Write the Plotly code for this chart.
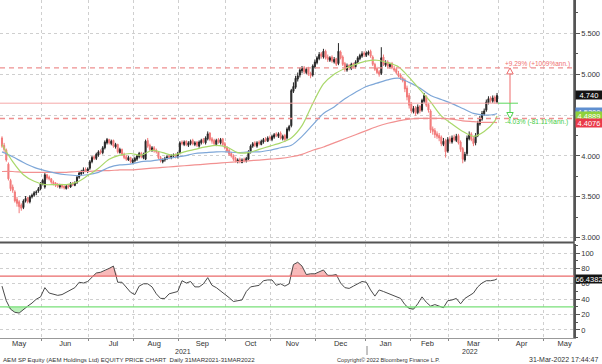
import pandas as pd
import plotly.graph_objects as go
from plotly.subplots import make_subplots

# ---------------- data ----------------
holidays = ["2021-05-13", "2021-05-26", "2021-07-20", "2021-08-09",
            "2021-11-04", "2022-02-01", "2022-02-02"]

open_ = [
    # May
    4.22, 4.13, 4.07, 3.90, 3.70, 3.62, 3.56, 3.47, 3.44, 3.40, 3.37, 3.45, 3.49, 3.44, 3.50, 3.52, 3.55, 3.57, 3.60,
    # Jun
    3.66, 3.62, 3.77, 3.74, 3.72, 3.68, 3.67, 3.65, 3.62, 3.65, 3.63, 3.60, 3.64, 3.62, 3.67, 3.64, 3.67, 3.74, 3.78, 3.80, 3.84, 3.81,
    # Jul
    3.85, 3.93, 3.99, 3.97, 4.01, 4.06, 4.04, 4.10, 4.16, 4.20, 4.15, 4.19, 4.11, 4.14, 4.04, 4.08, 4.02, 3.99, 3.95, 3.98, 3.92,
    # Aug
    3.94, 3.96, 3.99, 4.03, 3.98, 3.96, 4.19, 4.13, 4.07, 4.10, 4.07, 4.05, 3.98, 3.93, 3.95, 3.97, 4.00, 3.98, 4.00, 4.02, 3.99,
    # Sep
    4.04, 4.17, 4.14, 4.18, 4.13, 4.15, 4.19, 4.14, 4.17, 4.12, 4.16, 4.20, 4.16, 4.21, 4.28, 4.21, 4.19, 4.14, 4.20, 4.16, 4.21, 4.15,
    # Oct
    4.10, 4.07, 4.03, 4.00, 3.97, 3.93, 3.96, 3.92, 3.96, 3.94, 3.96, 4.05, 4.12, 4.16, 4.12, 4.17, 4.14, 4.17, 4.21, 4.18, 4.23,
    # Nov
    4.20, 4.23, 4.27, 4.24, 4.28, 4.21, 4.25, 4.22, 4.32, 4.37, 4.79, 4.84, 4.94, 4.99, 5.04, 5.08, 5.02, 5.07, 5.01, 4.99, 5.09,
    # Dec
    5.14, 5.19, 5.25, 5.21, 5.28, 5.21, 5.17, 5.21, 5.15, 5.19, 5.13, 5.27, 5.21, 5.13, 5.05, 5.11, 5.07, 5.13, 5.09, 5.15, 5.19, 5.22, 5.26,
    # Jan
    5.23, 5.25, 5.28, 5.21, 5.12, 5.07, 5.03, 5.01, 5.21, 5.11, 5.15, 5.09, 5.13, 5.07, 5.06, 5.01, 4.99, 4.95, 4.93, 4.83, 4.74,
    # Feb
    4.63, 4.54, 4.59, 4.53, 4.61, 4.56, 4.67, 4.73, 4.63, 4.55, 4.33, 4.31, 4.27, 4.25, 4.23, 4.14, 4.19, 4.06,
    # Mar
    4.21, 4.17, 4.23, 4.19, 4.25, 4.17, 4.09, 3.95, 4.03, 4.21, 4.27, 4.21, 4.16, 4.25, 4.39, 4.45, 4.51, 4.56, 4.65, 4.71, 4.67, 4.72, 4.66,
]
high = [
    4.24, 4.16, 4.09, 3.92, 3.72, 3.65, 3.58, 3.50, 3.46, 3.42, 3.47, 3.51, 3.50, 3.52, 3.54, 3.57, 3.58, 3.62, 3.68,
    3.72, 3.79, 3.78, 3.76, 3.73, 3.70, 3.68, 3.67, 3.66, 3.66, 3.64, 3.65, 3.65, 3.68, 3.68, 3.69, 3.76, 3.81, 3.83, 3.86, 3.86, 3.86,
    3.95, 4.00, 4.01, 4.04, 4.07, 4.08, 4.12, 4.19, 4.22, 4.21, 4.20, 4.20, 4.16, 4.15, 4.10, 4.09, 4.04, 4.01, 4.00, 3.99, 3.97,
    3.99, 4.02, 4.05, 4.05, 4.04, 4.20, 4.22, 4.15, 4.12, 4.12, 4.09, 4.06, 4.00, 3.97, 3.99, 4.01, 4.02, 4.02, 4.03, 4.03, 4.05,
    4.18, 4.19, 4.19, 4.19, 4.18, 4.20, 4.21, 4.18, 4.18, 4.19, 4.21, 4.22, 4.24, 4.30, 4.29, 4.23, 4.21, 4.21, 4.22, 4.22, 4.22, 4.17,
    4.12, 4.09, 4.05, 4.02, 3.99, 3.97, 3.98, 3.97, 3.98, 3.99, 4.07, 4.14, 4.17, 4.18, 4.18, 4.19, 4.20, 4.22, 4.23, 4.24, 4.25,
    4.26, 4.28, 4.29, 4.29, 4.30, 4.26, 4.27, 4.35, 4.38, 4.82, 4.90, 4.98, 5.02, 5.08, 5.10, 5.10, 5.08, 5.09, 5.03, 5.12, 5.18,
    5.22, 5.27, 5.27, 5.31, 5.30, 5.24, 5.22, 5.23, 5.21, 5.20, 5.38, 5.29, 5.23, 5.15, 5.13, 5.12, 5.14, 5.14, 5.17, 5.22, 5.25, 5.28, 5.28,
    5.28, 5.29, 5.30, 5.23, 5.14, 5.09, 5.05, 5.33, 5.24, 5.17, 5.17, 5.14, 5.15, 5.10, 5.08, 5.04, 5.01, 4.97, 4.95, 4.86, 4.77,
    4.66, 4.61, 4.61, 4.63, 4.62, 4.70, 4.77, 4.74, 4.65, 4.57, 4.36, 4.34, 4.30, 4.28, 4.25, 4.22, 4.21, 4.23,
    4.24, 4.25, 4.26, 4.27, 4.27, 4.19, 4.11, 4.05, 4.25, 4.30, 4.29, 4.23, 4.28, 4.43, 4.49, 4.55, 4.58, 4.69, 4.73, 4.73, 4.74, 4.74, 4.77,
]
low = [
    4.10, 4.05, 3.93, 3.70, 3.57, 3.55, 3.43, 3.38, 3.30, 3.33, 3.35, 3.43, 3.42, 3.42, 3.48, 3.50, 3.52, 3.55, 3.58,
    3.64, 3.60, 3.71, 3.70, 3.66, 3.64, 3.62, 3.61, 3.60, 3.60, 3.59, 3.59, 3.60, 3.61, 3.63, 3.63, 3.66, 3.72, 3.76, 3.78, 3.80, 3.79,
    3.83, 3.91, 3.95, 3.95, 3.99, 4.02, 4.02, 4.08, 4.14, 4.14, 4.13, 4.10, 4.09, 4.03, 4.03, 4.00, 3.96, 3.94, 3.94, 3.91, 3.90,
    3.92, 3.94, 3.97, 3.97, 3.96, 3.95, 4.10, 4.06, 4.05, 4.04, 4.03, 3.96, 3.92, 3.91, 3.93, 3.95, 3.96, 3.96, 3.98, 3.97, 3.97,
    4.02, 4.13, 4.12, 4.12, 4.11, 4.13, 4.13, 4.12, 4.11, 4.10, 4.14, 4.15, 4.14, 4.19, 4.18, 4.15, 4.13, 4.12, 4.15, 4.14, 4.12, 4.08,
    4.04, 4.00, 3.98, 3.94, 3.92, 3.91, 3.91, 3.91, 3.92, 3.92, 3.95, 4.03, 4.10, 4.11, 4.10, 4.13, 4.13, 4.15, 4.17, 4.17, 4.19,
    4.18, 4.21, 4.23, 4.22, 4.20, 4.19, 4.17, 4.20, 4.30, 4.35, 4.77, 4.82, 4.91, 4.96, 5.01, 5.00, 5.00, 4.98, 4.95, 4.97, 5.07,
    5.12, 5.17, 5.19, 5.19, 5.18, 5.15, 5.15, 5.14, 5.13, 5.10, 5.11, 5.18, 5.10, 5.03, 5.03, 5.05, 5.05, 5.07, 5.07, 5.13, 5.17, 5.20, 5.21,
    5.21, 5.23, 5.20, 5.10, 5.04, 5.00, 4.97, 4.99, 5.10, 5.09, 5.07, 5.07, 5.06, 5.03, 5.00, 4.96, 4.93, 4.90, 4.78, 4.68, 4.58,
    4.52, 4.52, 4.49, 4.51, 4.52, 4.54, 4.65, 4.60, 4.53, 4.28, 4.26, 4.22, 4.21, 4.18, 4.12, 4.12, 3.98, 4.04,
    4.15, 4.15, 4.18, 4.17, 4.14, 4.05, 3.91, 3.93, 4.00, 4.19, 4.18, 4.12, 4.13, 4.23, 4.37, 4.43, 4.49, 4.54, 4.63, 4.65, 4.65, 4.64, 4.64,
]
close = [
    4.12, 4.08, 3.95, 3.72, 3.60, 3.58, 3.45, 3.42, 3.38, 3.36, 3.45, 3.48, 3.44, 3.50, 3.52, 3.55, 3.56, 3.60, 3.66,
    3.70, 3.77, 3.73, 3.72, 3.68, 3.66, 3.64, 3.63, 3.64, 3.62, 3.61, 3.63, 3.62, 3.66, 3.65, 3.67, 3.74, 3.79, 3.80, 3.83, 3.82, 3.84,
    3.93, 3.98, 3.97, 4.02, 4.05, 4.04, 4.10, 4.17, 4.20, 4.16, 4.18, 4.12, 4.14, 4.05, 4.08, 4.02, 3.98, 3.96, 3.98, 3.93, 3.95,
    3.97, 4.00, 4.03, 3.99, 4.02, 4.18, 4.12, 4.08, 4.10, 4.06, 4.05, 3.98, 3.94, 3.95, 3.97, 3.99, 3.98, 4.00, 4.01, 3.99, 4.03,
    4.16, 4.15, 4.17, 4.14, 4.16, 4.18, 4.15, 4.16, 4.13, 4.17, 4.19, 4.17, 4.22, 4.27, 4.20, 4.18, 4.15, 4.19, 4.17, 4.20, 4.14, 4.10,
    4.06, 4.02, 4.00, 3.96, 3.94, 3.95, 3.93, 3.95, 3.94, 3.97, 4.05, 4.12, 4.15, 4.13, 4.16, 4.15, 4.18, 4.20, 4.19, 4.22, 4.21,
    4.24, 4.26, 4.25, 4.27, 4.22, 4.24, 4.20, 4.33, 4.36, 4.80, 4.85, 4.95, 4.98, 5.05, 5.07, 5.03, 5.06, 5.00, 4.98, 5.10, 5.15,
    5.20, 5.24, 5.22, 5.28, 5.20, 5.18, 5.20, 5.16, 5.18, 5.12, 5.28, 5.20, 5.12, 5.06, 5.10, 5.08, 5.12, 5.09, 5.15, 5.20, 5.23, 5.25, 5.24,
    5.26, 5.27, 5.22, 5.12, 5.06, 5.02, 5.00, 5.20, 5.12, 5.14, 5.10, 5.12, 5.08, 5.05, 5.02, 4.98, 4.95, 4.92, 4.82, 4.72, 4.62,
    4.55, 4.58, 4.52, 4.60, 4.55, 4.68, 4.74, 4.62, 4.56, 4.32, 4.30, 4.26, 4.24, 4.22, 4.15, 4.18, 4.05, 4.20,
    4.18, 4.22, 4.20, 4.24, 4.16, 4.08, 3.96, 4.02, 4.22, 4.26, 4.20, 4.15, 4.25, 4.40, 4.46, 4.52, 4.55, 4.66, 4.70, 4.68, 4.71, 4.67, 4.74,
]

# moving averages, read every 5th session (+ last session)
ma_green = [4.14, 3.93, 3.77, 3.69, 3.65, 3.65, 3.65, 3.68, 3.76, 3.85, 3.96, 4.01, 4.03, 4.01, 4.07, 4.04,
            4.01, 4.05, 4.08, 4.11, 4.13, 4.11, 4.04, 4.04, 4.08, 4.12, 4.16, 4.22, 4.37, 4.64, 4.88, 5.00,
            5.07, 5.12, 5.16, 5.17, 5.14, 5.09, 4.96, 4.81, 4.66, 4.49, 4.39, 4.30, 4.24, 4.30, 4.43, 4.4889]
ma_blue = [4.05, 3.99, 3.92, 3.86, 3.82, 3.79, 3.77, 3.76, 3.77, 3.80, 3.86, 3.89, 3.90, 3.93, 3.94, 3.96,
           3.98, 4.00, 4.03, 4.04, 4.05, 4.05, 4.04, 4.05, 4.05, 4.07, 4.10, 4.13, 4.24, 4.38, 4.52, 4.60,
           4.70, 4.78, 4.85, 4.89, 4.93, 4.95, 4.90, 4.83, 4.74, 4.69, 4.64, 4.58, 4.52, 4.50, 4.51, 4.52]
ma_red = [3.81, 3.81, 3.80, 3.80, 3.80, 3.80, 3.80, 3.81, 3.81, 3.82, 3.82, 3.83, 3.83, 3.84, 3.85, 3.86,
          3.87, 3.88, 3.89, 3.90, 3.91, 3.92, 3.93, 3.94, 3.95, 3.96, 3.97, 3.99, 4.02, 4.07, 4.11, 4.16,
          4.21, 4.26, 4.31, 4.36, 4.40, 4.43, 4.45, 4.46, 4.46, 4.46, 4.45, 4.43, 4.42, 4.41, 4.41, 4.4076]

# RSI, read every 2nd session (+ last session)
rsi = [57, 38, 27, 23, 22, 27, 31, 35, 40, 43,
       55, 48, 46, 45, 46, 49, 52, 55, 62, 61, 63,
       69, 74, 75, 77, 80, 83, 62, 62, 55, 49,
       46, 57, 60, 60, 56, 47, 41, 41, 47, 49, 50,
       64, 61, 63, 56, 56, 60, 68, 58, 55, 51, 47,
       42, 37, 38, 39, 50, 56, 57, 58, 64, 65,
       65, 58, 60, 57, 60, 85, 88, 83, 72, 73, 73,
       75, 78, 71, 71, 72, 61, 55, 54, 57, 60, 63,
       62, 52, 44, 52, 50, 48, 46, 44, 41, 33, 28,
       27, 34, 43, 36, 31, 33, 31, 29, 38,
       39, 41, 34, 41, 45, 48, 56, 61, 64, 64, 65,
       66.4382]

last_price = 4.740
ref_level = 4.645
up_pct = 9.29
down_pct = 4.03
rsi_hi, rsi_lo = 70, 30

price_ticks = [3.0, 3.5, 4.0, 4.5, 5.0, 5.5]
price_ticktext = ["3.000", "3.500", "4.000", "", "5.000", "5.500"]
rsi_ticks = [0, 20, 40, 60, 80, 100]

# ---------------- positions ----------------
days = pd.bdate_range("2021-05-03", "2022-03-31")
days = days[~days.isin(pd.to_datetime(holidays))]
assert len(days) == len(close) == len(open_) == len(high) == len(low)
xd = days + pd.Timedelta(hours=12)
x_ma = list(xd[::5]) + [xd[-1]]
x_rsi = list(xd[::2]) + [xd[-1]]
assert len(x_ma) == len(ma_green) and len(x_rsi) == len(rsi)

upper = ref_level * (1 + up_pct / 100)
lower = ref_level * (1 - down_pct / 100)

FONT = "Liberation Sans, Arial, sans-serif"
PW = 574.0  # plot width in px
PH = 338.0  # plot height in px

def px_x(px):
    return px / PW

def px_y(py):
    return (PH - py) / PH

fig = make_subplots(rows=2, cols=1, shared_xaxes=True)

fig.add_trace(go.Candlestick(
    x=xd, open=open_, high=high, low=low, close=close,
    increasing=dict(line=dict(color="#262626", width=1), fillcolor="#262626"),
    decreasing=dict(line=dict(color="#f27a7a", width=1), fillcolor="#f27a7a"),
    whiskerwidth=0, hoverinfo="skip"), row=1, col=1)

for vals, col in [(ma_red, "#f29191"), (ma_blue, "#7ea7d8"), (ma_green, "#a9d86a")]:
    fig.add_trace(go.Scatter(x=x_ma, y=vals, mode="lines",
                             line=dict(color=col, width=1.2, shape="spline", smoothing=0.8),
                             hoverinfo="skip"), row=1, col=1)

# RSI fills
fig.add_trace(go.Scatter(x=x_rsi, y=[rsi_hi] * len(rsi), mode="lines",
                         line=dict(width=0), hoverinfo="skip"), row=2, col=1)
fig.add_trace(go.Scatter(x=x_rsi, y=[max(v, rsi_hi) for v in rsi], mode="lines",
                         line=dict(width=0), fill="tonexty", fillcolor="rgba(244,140,140,0.6)",
                         hoverinfo="skip"), row=2, col=1)
fig.add_trace(go.Scatter(x=x_rsi, y=[rsi_lo] * len(rsi), mode="lines",
                         line=dict(width=0), hoverinfo="skip"), row=2, col=1)
fig.add_trace(go.Scatter(x=x_rsi, y=[min(v, rsi_lo) for v in rsi], mode="lines",
                         line=dict(width=0), fill="tonexty", fillcolor="rgba(140,232,140,0.6)",
                         hoverinfo="skip"), row=2, col=1)
fig.add_trace(go.Scatter(x=x_rsi, y=rsi, mode="lines",
                         line=dict(color="#4a4a4a", width=1), hoverinfo="skip"), row=2, col=1)

rb = [dict(bounds=["sat", "mon"]), dict(values=holidays)]
xrange = ["2021-04-30 13:40", "2022-05-20 10:00"]
common_x = dict(range=xrange, rangebreaks=rb, showgrid=True, gridcolor="#cfcfcf",
                griddash="dot", gridwidth=1, dtick="M1", tick0="2021-05-01",
                zeroline=False)

fig.update_layout(
    width=602, height=364, margin=dict(l=0, r=28, t=0, b=26),
    showlegend=False, paper_bgcolor="white", plot_bgcolor="white",
    font=dict(family=FONT, size=7, color="#333"),
    xaxis=dict(**common_x, showticklabels=False, rangeslider=dict(visible=False)),
    xaxis2=dict(**common_x, showticklabels=True, tickformat="%b", ticklabelmode="period",
                ticks="outside", ticklen=2, tickcolor="#888", showline=True,
                linecolor="#999", linewidth=1, ticklabelstandoff=-4,
                tickfont=dict(size=7.5, color="#333")),
    yaxis=dict(domain=[px_y(241), 1], side="right", range=[2.96, 5.907],
               tickvals=price_ticks, ticktext=price_ticktext, showgrid=True,
               gridcolor="#cfcfcf", griddash="dot", showline=True, linecolor="#555",
               linewidth=1.5, ticks="outside", ticklen=4, tickcolor="#555",
               minor=dict(ticks="outside", ticklen=2, dtick=0.25, tickcolor="#555", showgrid=False),
               zeroline=False, tickfont=dict(size=7.5, color="#333")),
    yaxis2=dict(domain=[0, px_y(244)], side="right", range=[-10.4, 111.7],
                tickvals=rsi_ticks, showgrid=True, gridcolor="#cfcfcf", griddash="dot",
                showline=True, linecolor="#555", linewidth=1.5, ticks="outside",
                ticklen=4, tickcolor="#555", zeroline=False,
                minor=dict(ticks="outside", ticklen=2, dtick=10, tickcolor="#555", showgrid=False),
                tickfont=dict(size=7.5, color="#333")),
)

shapes = []
# panel separator and full axis line
shapes.append(dict(type="line", xref="paper", yref="paper", x0=0, x1=1,
                   y0=px_y(242.5), y1=px_y(242.5), line=dict(color="#555", width=2)))
shapes.append(dict(type="line", xref="paper", yref="paper", x0=1, x1=1,
                   y0=0, y1=1, line=dict(color="#555", width=1.5)))
# RSI levels
shapes.append(dict(type="line", xref="x2 domain", yref="y2", x0=0, x1=1, y0=rsi_hi, y1=rsi_hi,
                   line=dict(color="#ea6a6a", width=1.2)))
shapes.append(dict(type="line", xref="x2 domain", yref="y2", x0=0, x1=1, y0=rsi_lo, y1=rsi_lo,
                   line=dict(color="#79e079", width=1.2)))
# price study lines
shapes.append(dict(type="line", xref="x domain", yref="y", x0=0, x1=px_x(498), y0=ref_level,
                   y1=ref_level, line=dict(color="#f5a9a9", width=1)))
for lvl in (upper, lower):
    shapes.append(dict(type="line", xref="x domain", yref="y", x0=0, x1=1, y0=lvl, y1=lvl,
                       line=dict(color="#ee9090", width=1.4, dash="5px,4px")))
shapes.append(dict(type="line", xref="x domain", yref="y", x0=px_x(498), x1=px_x(518),
                   y0=ref_level, y1=ref_level, line=dict(color="#5ed85e", width=1)))
ax = px_x(510)
hw = 3.2 / PW
th = 6 / 81.8
shapes.append(dict(type="line", xref="x domain", yref="y", x0=ax, x1=ax, y0=ref_level,
                   y1=upper - th, line=dict(color="#ee6b6b", width=1)))
shapes.append(dict(type="path", xref="x domain", yref="y",
                   path=f"M {ax - hw} {upper - th} L {ax + hw} {upper - th} L {ax} {upper} Z",
                   line=dict(color="#ee6b6b", width=1), fillcolor="white"))
shapes.append(dict(type="line", xref="x domain", yref="y", x0=ax, x1=ax, y0=ref_level,
                   y1=lower + th, line=dict(color="#4fd24f", width=1)))
shapes.append(dict(type="path", xref="x domain", yref="y",
                   path=f"M {ax - hw} {lower + th} L {ax + hw} {lower + th} L {ax} {lower} Z",
                   line=dict(color="#4fd24f", width=1), fillcolor="white"))
# year separator tick
shapes.append(dict(type="line", xref="paper", yref="paper", x0=px_x(367), x1=px_x(367),
                   y0=px_y(346), y1=px_y(355), line=dict(color="#888", width=1)))
fig.update_layout(shapes=shapes)

ann = []
def box(y, yref, text, bg, fg="white"):
    ann.append(dict(x=1, xref="paper", xanchor="left", xshift=1, y=y, yref=yref,
                    yanchor="middle", text=text, showarrow=False, bgcolor=bg,
                    font=dict(size=7.5, color=fg, family=FONT), width=26, height=8,
                    borderpad=0, align="center"))

box(last_price, "y", f"{last_price:.3f}", "#141414")
box(ma_blue[-1] + 0.02, "y", f"{ma_blue[-1]:.4f}", "#5f8fd0")
box(ma_green[-1], "y", f"{ma_green[-1]:.4f}", "#8fd13a")
box(ma_red[-1], "y", f"{ma_red[-1]:.4f}", "#ea3a4a")
box(rsi[-1], "y2", f"{rsi[-1]:.4f}", "#141414")

ann.append(dict(x=px_x(503), xref="paper", xanchor="left", y=5.125, yref="y", yanchor="middle",
                text=f"+{up_pct:.2f}% (+1009%ann.)", showarrow=False,
                font=dict(size=6.5, color="#ef6f6f", family=FONT)))
ann.append(dict(x=px_x(503), xref="paper", xanchor="left", y=4.416, yref="y", yanchor="middle",
                text=f"-{down_pct:.2f}% (-81.11%ann.)", showarrow=False,
                font=dict(size=6.5, color="#3fcc3f", family=FONT)))

for txt, xp in [("2021", 183), ("2022", 470)]:
    ann.append(dict(x=px_x(xp), xref="paper", xanchor="center", y=px_y(351), yref="paper",
                    yanchor="middle", text=txt, showarrow=False,
                    font=dict(size=7, color="#333", family=FONT)))

ann.append(dict(x=px_x(1), xref="paper", xanchor="left", y=px_y(359.5), yref="paper", yanchor="middle",
                text="AEM SP Equity (AEM Holdings Ltd) EQUITY PRICE CHART  Daily 31MAR2021-31MAR2022",
                showarrow=False, font=dict(size=6.1, color="#333", family=FONT)))
ann.append(dict(x=px_x(335), xref="paper", xanchor="left", y=px_y(359.5), yref="paper", yanchor="middle",
                text="Copyright© 2022 Bloomberg Finance L.P.", showarrow=False,
                font=dict(size=5.6, color="#333", family=FONT)))
ann.append(dict(x=px_x(600), xref="paper", xanchor="right", y=px_y(359.5), yref="paper", yanchor="middle",
                text="31-Mar-2022 17:44:47", showarrow=False,
                font=dict(size=7, color="#333", family=FONT)))
fig.update_layout(annotations=ann)

fig.write_html("out.html", config={"displayModeBar": False},
               post_script="document.body.style.margin='0';")
